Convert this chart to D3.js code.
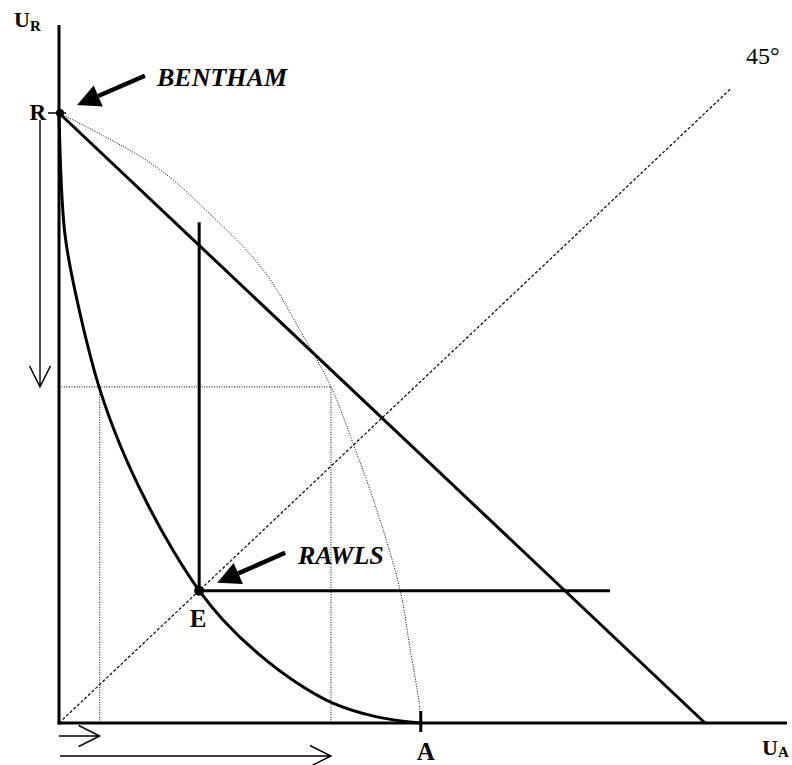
<!DOCTYPE html>
<html>
<head>
<meta charset="utf-8">
<script src="https://cdn.jsdelivr.net/npm/d3@7"></script>
<style>
  body { margin: 0; background: #fff; }
  text { font-family: "Liberation Serif", "Times New Roman", serif; fill: #000; }
</style>
</head>
<body>
<div class="canvas"></div>
<script>
// data (utility units, Bentham line is U_A + U_R = 100)
const pointR = [0, 100];
const pointE = [21.7, 21.7];
const pointA = [56, 0];
const benthamLine = [[0, 100], [100, 0]];
const diagonal = [[0, 0], [104, 104]];
// convex frontier R -> E -> A
const convexCurve = [
  [0, 100], [0.9, 80.3], [2.8, 69.3], [6.2, 55.1], [9.6, 45.2], [13.6, 36.1],
  [17.6, 28.4], [21.7, 21.7], [25.4, 16.9], [30.7, 11.5], [36.8, 6.6],
  [42.3, 3.3], [49.2, 1.0], [56, 0]
];
// concave (dotted) frontier R -> A
const concaveCurve = [
  [0, 100], [14.6, 91.5], [23.8, 83.0], [31.6, 74.3], [37.3, 64.4],
  [42.1, 55.1], [45.5, 45.9], [49.2, 34.9], [52.8, 21.8], [54.3, 12.5],
  [55.9, 2.1], [56, 0]
];
// Rawls L-shaped indifference curve
const rawlsL = [[21.7, 82.1], [21.7, 21.7], [85.3, 21.7]];
// equal U_R level, two U_A values
const levelR = 55.1;
const levelA = [6.3, 42.1];

const svg = d3.select('.canvas')
  .append('svg')
  .attr('width', 792)
  .attr('height', 765);

const x = d3.scaleLinear().domain([0, 100]).range([59, 705]);
const y = d3.scaleLinear().domain([0, 100]).range([723, 113]);

const line = d3.line().x(d => x(d[0])).y(d => y(d[1]));
const curve = d3.line().x(d => x(d[0])).y(d => y(d[1])).curve(d3.curveCatmullRom.alpha(0.5));

// dotted guide lines
svg.append('path')
  .attr('d', line([[0, levelR], [levelA[1], levelR]]))
  .attr('fill', 'none').attr('stroke', '#000').attr('stroke-width', 1)
  .attr('stroke-dasharray', '1,1.5');

levelA.forEach(a => {
  svg.append('path')
    .attr('d', line([[a, levelR], [a, 0]]))
    .attr('fill', 'none').attr('stroke', '#000').attr('stroke-width', 1)
    .attr('stroke-dasharray', '1,1.5');
});

// concave frontier
svg.append('path')
  .attr('d', curve(concaveCurve))
  .attr('fill', 'none').attr('stroke', '#000').attr('stroke-width', 1)
  .attr('stroke-dasharray', '1,1.5');

// 45 degree line
svg.append('path')
  .attr('d', line(diagonal))
  .attr('fill', 'none').attr('stroke', '#000').attr('stroke-width', 1.2)
  .attr('stroke-dasharray', '3,2');

// Bentham line
svg.append('path')
  .attr('d', line(benthamLine))
  .attr('fill', 'none').attr('stroke', '#000').attr('stroke-width', 3);

// convex frontier
svg.append('path')
  .attr('d', curve(convexCurve))
  .attr('fill', 'none').attr('stroke', '#000').attr('stroke-width', 3);

// Rawls L
svg.append('path')
  .attr('d', line(rawlsL))
  .attr('fill', 'none').attr('stroke', '#000').attr('stroke-width', 3);

// axes
svg.append('line')
  .attr('x1', x(0)).attr('y1', y(0) + 1.5).attr('x2', x(0)).attr('y2', 25)
  .attr('stroke', '#000').attr('stroke-width', 3);
svg.append('line')
  .attr('x1', x(0) - 1.5).attr('y1', y(0)).attr('x2', 787).attr('y2', y(0))
  .attr('stroke', '#000').attr('stroke-width', 3);

// ticks at R and A
svg.append('line')
  .attr('x1', x(0) - 11).attr('x2', x(0) + 7).attr('y1', y(pointR[1])).attr('y2', y(pointR[1]))
  .attr('stroke', '#000').attr('stroke-width', 1.5);
svg.append('line')
  .attr('x1', x(pointA[0])).attr('x2', x(pointA[0])).attr('y1', y(0) - 12).attr('y2', y(0) + 9)
  .attr('stroke', '#000').attr('stroke-width', 3);

// points
svg.append('circle').attr('cx', x(pointR[0]) + 1).attr('cy', y(pointR[1])).attr('r', 4).attr('fill', '#000');
svg.append('circle').attr('cx', x(pointE[0])).attr('cy', y(pointE[1])).attr('r', 5).attr('fill', '#000');

// arrows
const openArrow = (x1, y1, x2, y2) => {
  const ang = Math.atan2(y2 - y1, x2 - x1);
  const len = 21, hw = 10.5;
  const bx = x2 - len * Math.cos(ang), by = y2 - len * Math.sin(ang);
  const px = -Math.sin(ang) * hw, py = Math.cos(ang) * hw;
  svg.append('path')
    .attr('d', `M${x1},${y1}L${x2},${y2}M${bx + px},${by + py}L${x2},${y2}L${bx - px},${by - py}`)
    .attr('fill', 'none').attr('stroke', '#000').attr('stroke-width', 1.4);
};

const solidArrow = (x1, y1, x2, y2) => {
  const ang = Math.atan2(y2 - y1, x2 - x1);
  const len = 23, hw = 11.5;
  const bx = x2 - len * Math.cos(ang), by = y2 - len * Math.sin(ang);
  const px = -Math.sin(ang) * hw, py = Math.cos(ang) * hw;
  svg.append('line')
    .attr('x1', x1).attr('y1', y1).attr('x2', bx).attr('y2', by)
    .attr('stroke', '#000').attr('stroke-width', 4.5);
  svg.append('path')
    .attr('d', `M${x2},${y2}L${bx + px},${by + py}L${bx - px},${by - py}Z`)
    .attr('fill', '#000');
};

openArrow(40, y(pointR[1]) + 7, 40, y(levelR));
openArrow(x(0), y(0) + 13, x(levelA[0]), y(0) + 13);
openArrow(x(0) + 1, y(0) + 33, x(levelA[1]), y(0) + 33);

solidArrow(x(13.3), y(106.1), x(2.8), y(101.3));
solidArrow(x(35.0), y(27.9), x(24.5), y(23.0));

// labels
const ur = svg.append('text').attr('x', 14).attr('y', 27).attr('font-weight', 'bold').attr('font-size', 22);
ur.append('tspan').text('U');
ur.append('tspan').attr('font-size', 15).attr('dy', 4).text('R');

svg.append('text').attr('x', 46).attr('y', y(pointR[1]) + 7)
  .attr('text-anchor', 'end').attr('font-weight', 'bold').attr('font-size', 23).text('R');

svg.append('text').attr('x', 157).attr('y', 86)
  .attr('font-weight', 'bold').attr('font-style', 'italic').attr('font-size', 26).text('BENTHAM');

svg.append('text').attr('x', 298).attr('y', 564)
  .attr('font-weight', 'bold').attr('font-style', 'italic').attr('font-size', 26).text('RAWLS');

svg.append('text').attr('x', x(pointE[0]) - 1).attr('y', 627)
  .attr('text-anchor', 'middle').attr('font-weight', 'bold').attr('font-size', 25).text('E');

svg.append('text').attr('x', x(pointA[0]) + 5).attr('y', 760)
  .attr('text-anchor', 'middle').attr('font-weight', 'bold').attr('font-size', 25).text('A');

svg.append('text').attr('x', 746).attr('y', 64).attr('font-size', 24).text('45°');

const ua = svg.append('text').attr('x', 762).attr('y', 755).attr('font-weight', 'bold').attr('font-size', 22);
ua.append('tspan').text('U');
ua.append('tspan').attr('font-size', 15).attr('dy', 2).text('A');
</script>
</body>
</html>
